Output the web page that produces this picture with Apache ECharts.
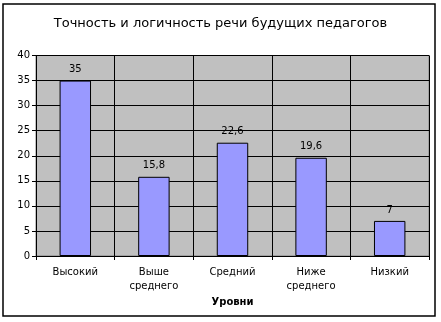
<!DOCTYPE html>
<html><head><meta charset="utf-8">
<script src="https://cdn.jsdelivr.net/npm/echarts@6/dist/echarts.min.js"></script>
<style>html,body{margin:0;padding:0;background:#fff}#c{width:441px;height:322px}</style>
</head><body><div id="c"></div>
<script>
const titleText = 'Точность и логичность речи будущих педагогов';
const categories = ['Высокий', 'Выше\nсреднего', 'Средний', 'Ниже\nсреднего', 'Низкий'];
const values = [35, 15.8, 22.6, 19.6, 7];
const xName = 'Уровни';
const yMin = 0, yMax = 40, yStep = 5;

const chart = echarts.init(document.getElementById('c'), null, {renderer: 'canvas'});
const font = 'DejaVu Sans';
chart.setOption({
  animation: false,
  textStyle: {fontFamily: font},
  title: {
    text: titleText, left: 'center', top: 12,
    textStyle: {fontFamily: font, fontSize: 13, fontWeight: 'normal', color: '#000'}
  },
  graphic: [{
    type: 'rect', shape: {x: 3, y: 4, width: 432, height: 312},
    style: {fill: 'none', stroke: '#000', lineWidth: 1.5}, silent: true, z: 100
  }],
  grid: {
    left: 36, right: 12, top: 55.5, bottom: 66,
    show: true, backgroundColor: '#C0C0C0', borderColor: '#808080', borderWidth: 1
  },
  xAxis: {
    type: 'category', data: categories,
    name: xName, nameLocation: 'middle', nameGap: 38,
    nameTextStyle: {fontFamily: font, fontSize: 10, fontWeight: 'bold', color: '#000'},
    axisLine: {lineStyle: {color: '#000', width: 1}},
    axisTick: {show: true, alignWithLabel: false, length: 4, lineStyle: {color: '#000'}},
    axisLabel: {color: '#000', fontSize: 10, fontFamily: font, margin: 9, lineHeight: 14, interval: 0},
    splitLine: {show: true, lineStyle: {color: '#000', width: 1}}
  },
  yAxis: {
    type: 'value', min: yMin, max: yMax, interval: yStep,
    axisLine: {show: true, lineStyle: {color: '#000', width: 1}},
    axisTick: {show: true, length: 4, lineStyle: {color: '#000'}},
    axisLabel: {color: '#000', fontSize: 10, fontFamily: font, margin: 6},
    splitLine: {show: true, lineStyle: {color: '#000', width: 1}}
  },
  series: [{
    type: 'bar', data: values, barWidth: '40%',
    itemStyle: {color: '#9999FF', borderColor: '#000', borderWidth: 1},
    label: {
      show: true, position: 'top', distance: 6, color: '#000', fontSize: 10, fontFamily: font,
      formatter: p => String(p.value).replace('.', ',')
    }
  }]
});
</script></body></html>
